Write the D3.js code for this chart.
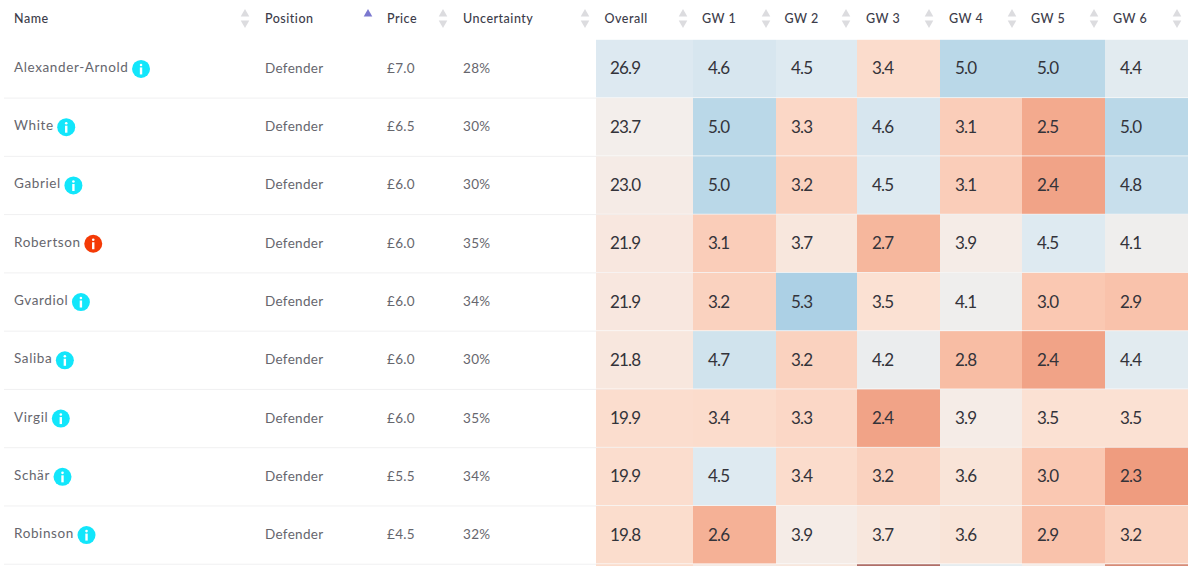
<!DOCTYPE html>
<html><head><meta charset="utf-8">
<script src="https://cdnjs.cloudflare.com/ajax/libs/d3/7.8.5/d3.min.js"></script>
<style>html,body{margin:0;padding:0;background:#fff;overflow:hidden}svg{display:block}text{font-family:Lato,sans-serif}</style>
</head><body><svg id="c" width="1200" height="566"></svg>
<script>
const players=["Alexander-Arnold","White","Gabriel","Robertson","Gvardiol","Saliba","Virgil","Schär","Robinson"];
const positions=["Defender","Defender","Defender","Defender","Defender","Defender","Defender","Defender","Defender"];
const prices=[7.0,6.5,6.0,6.0,6.0,6.0,6.0,5.5,4.5];
const uncertainty=[28,30,30,35,34,30,35,34,32];
const infoStatus=["ok","ok","ok","alert","ok","ok","ok","ok","ok"];
const overall=[26.9,23.7,23.0,21.9,21.9,21.8,19.9,19.9,19.8];
const gw1=[4.6,5.0,5.0,3.1,3.2,4.7,3.4,4.5,2.6];
const gw2=[4.5,3.3,3.2,3.7,5.3,3.2,3.3,3.4,3.9];
const gw3=[3.4,4.6,4.5,2.7,3.5,4.2,2.4,3.2,3.7];
const gw4=[5.0,3.1,3.1,3.9,4.1,2.8,3.9,3.6,3.6];
const gw5=[5.0,2.5,2.4,4.5,3.0,2.4,3.5,3.0,2.9];
const gw6=[4.4,5.0,4.8,4.1,2.9,4.4,3.5,2.3,3.2];
// the tenth row is cut off by the picture's edge: only the top of its cells shows, values estimated from colour
const clippedRow=[19.6,3.8,3.7,1.5,4.3,3.9,2.0];
const heatColumns=["Overall","GW 1","GW 2","GW 3","GW 4","GW 5","GW 6"];
const heatValues=[overall,gw1,gw2,gw3,gw4,gw5,gw6];

const svg=d3.select("#c");
const rowStep=58.27;
const rowY=d3.scaleBand().domain(d3.range(10)).range([39.8,39.8+rowStep*10]);
const edges=[596,693,776,857,940,1022,1105,1188];
const colX=d3.scaleOrdinal().domain(heatColumns).range(edges);
const colW=c=>edges[heatColumns.indexOf(c)+1]-edges[heatColumns.indexOf(c)];
const gwColor=d3.scaleLinear().domain([1.5,2.3,2.6,3.0,3.5,4.0,4.5,5.0,5.3]).range(["#b06f68","#ef9c7f","#f5b196","#fac8b2","#fbe1d3","#f3efec","#deeaf1","#bad8e8","#acd0e5"]);
const ovColor=d3.scaleLinear().domain([19.6,21.9,23.7,26.9]).range(["#fbdccb","#f8e7df","#f3eeeb","#dde9f1"]);
const textCols=[{label:"Name",x:14,s:245},{label:"Position",x:265,s:368,active:true},{label:"Price",x:387,s:443},{label:"Uncertainty",x:463,s:585}];

// row dividers
svg.append("g").selectAll("line").data(d3.range(1,players.length+1)).join("line")
 .attr("x1",4).attr("x2",1188).attr("y1",i=>rowY(i)).attr("y2",i=>rowY(i))
 .attr("stroke","#f0f0f1").attr("stroke-width",1);

// heat cells
heatColumns.forEach((c,ci)=>{
 const g=svg.append("g");
 const color=ci===0?ovColor:gwColor;
 g.selectAll("rect").data(heatValues[ci].concat(clippedRow[ci])).join("rect")
  .attr("x",colX(c)).attr("width",colW(c)).attr("y",(d,i)=>rowY(i)).attr("height",rowY.bandwidth()-0.8)
  .attr("fill",d=>color(d));
 g.selectAll("text").data(heatValues[ci]).join("text")
  .attr("x",colX(c)+(ci===0?14:15)).attr("y",(d,i)=>rowY(i)+rowY.bandwidth()/2+5.5)
  .attr("font-size",17).attr("letter-spacing",-0.8).attr("fill","#33333a").text(d=>d.toFixed(1));
});

// text columns
const rowText=(x,vals,fmt)=>svg.append("g").selectAll("text").data(vals).join("text")
 .attr("x",x).attr("y",(d,i)=>rowY(i)+rowY.bandwidth()/2+4)
 .attr("font-size",13.5).attr("letter-spacing",0.3).attr("fill","#66666d").text(fmt);
const names=rowText(14,players,d=>d).attr("y",(d,i)=>rowY(i)+rowY.bandwidth()/2+3).attr("letter-spacing",0.62);
rowText(265,positions,d=>d);
rowText(387,prices,d=>"£"+d.toFixed(1));
rowText(463,uncertainty,d=>d+"%");

// info badges
names.each(function(d,i){
 const w=this.getComputedTextLength();
 const cx=14+w+12.5, cy=rowY(i)+rowY.bandwidth()/2;
 const col=infoStatus[i]==="alert"?"#f43a06":"#12e6fb";
 const g=svg.append("g");
 g.append("circle").attr("cx",cx).attr("cy",cy).attr("r",9).attr("fill",col);
 g.append("circle").attr("cx",cx).attr("cy",cy-4).attr("r",1.3).attr("fill","#fff");
 g.append("rect").attr("x",cx-1.2).attr("y",cy-1.5).attr("width",2.4).attr("height",7).attr("fill","#fff");
});

// headers
const arrows=(x,active)=>{
 const tri=d3.symbol().type(d3.symbolTriangle).size(32);
 svg.append("path").attr("d",tri()).attr("transform",`translate(${x},14)`).attr("fill",active?"#7b78cf":"#dcdcdf");
 if(!active) svg.append("path").attr("d",tri()).attr("transform",`translate(${x},23) rotate(180)`).attr("fill","#dcdcdf");
};
const header=(x,t)=>svg.append("text").attr("x",x).attr("y",23).attr("font-size",12.5).attr("font-weight",500).attr("letter-spacing",0.5).attr("fill","#3c3c4a").text(t);
textCols.forEach(c=>{header(c.x,c.label);arrows(c.s,c.active);});
const hx=[604.5,702,784.5,866,949,1031,1113], sx=[683,766,846,929,1012,1094,1177];
heatColumns.forEach((c,i)=>{header(hx[i],c);arrows(sx[i],false);});
</script></body></html>
